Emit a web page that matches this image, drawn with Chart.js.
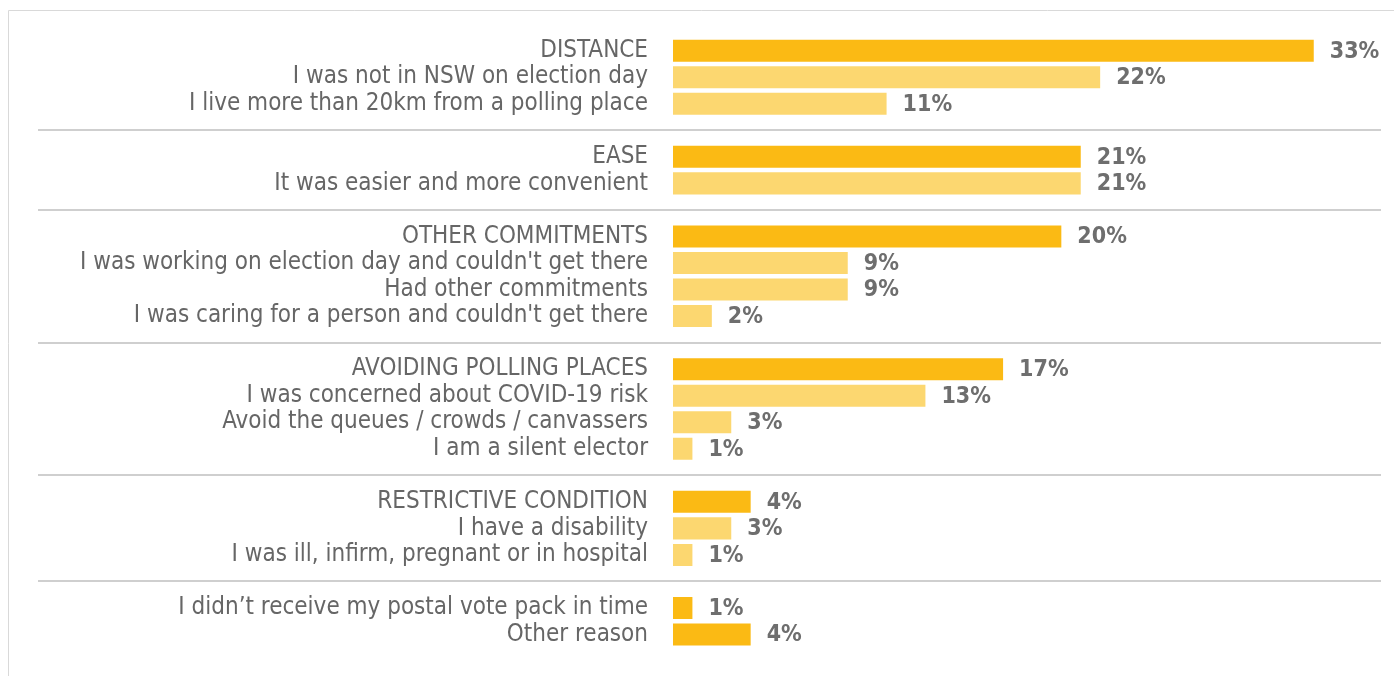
<!DOCTYPE html>
<html>
<head>
<meta charset="utf-8">
<script src="https://cdn.jsdelivr.net/npm/chart.js@4/dist/chart.umd.min.js"></script>
<style>
  html, body { margin: 0; padding: 0; background: #ffffff; }
  #wrap { position: relative; width: 1394px; height: 676px; }
  canvas { display: block; }
</style>
</head>
<body>
<div id="wrap"><canvas id="chart" width="1394" height="676"></canvas></div>
<script>
// Reasons for voting early / by post, grouped by theme.
// Empty strings mark the spacer rows where the group dividers sit.
const reasons = [
  'DISTANCE',
  'I was not in NSW on election day',
  'I live more than 20km from a polling place',
  '',
  'EASE',
  'It was easier and more convenient',
  '',
  'OTHER COMMITMENTS',
  "I was working on election day and couldn't get there",
  'Had other commitments',
  "I was caring for a person and couldn't get there",
  '',
  'AVOIDING POLLING PLACES',
  'I was concerned about COVID-19 risk',
  'Avoid the queues / crowds / canvassers',
  'I am a silent elector',
  '',
  'RESTRICTIVE CONDITION',
  'I have a disability',
  'I was ill, infirm, pregnant or in hospital',
  '',
  'I didn\u2019t receive my postal vote pack in time',
  'Other reason'
];

// Share of respondents (%) per row; null for spacer rows.
const shares = [
  33, 22, 11, null,
  21, 21, null,
  20, 9, 9, 2, null,
  17, 13, 3, 1, null,
  4, 3, 1, null,
  1, 4
];

// true = group total / stand-alone reason (darker bar), false = sub-reason.
const isHeadline = [
  true, false, false, false,
  true, false, false,
  true, false, false, false, false,
  true, false, false, false, false,
  true, false, false, false,
  true, true
];

const DARK = '#FBBA14';
const LIGHT = '#FCD770';
const TEXT = '#666666';
const LABEL_FONT = '"Liberation Sans Narrow", "DejaVu Sans Condensed", sans-serif';

const PLOT_LEFT = 673;

// Grey frame lines along the top and left of the panel, plus group dividers.
const decorations = {
  id: 'decorations',
  beforeDraw(chart) {
    const ctx = chart.ctx;
    ctx.save();
    ctx.strokeStyle = '#d9d9d9';
    ctx.lineWidth = 1;
    ctx.beginPath();
    ctx.moveTo(8.5, 676);
    ctx.lineTo(8.5, 10.5);
    ctx.lineTo(1394, 10.5);
    ctx.stroke();

    const y = chart.scales.y;
    ctx.strokeStyle = '#cfcfcf';
    ctx.lineWidth = 2;
    reasons.forEach((r, i) => {
      if (r !== '') return;
      const py = Math.round(y.getPixelForValue(i));
      ctx.beginPath();
      ctx.moveTo(38, py);
      ctx.lineTo(1381, py);
      ctx.stroke();
    });
    ctx.restore();
  }
};

// Percentage labels just past the end of each bar.
const valueLabels = {
  id: 'valueLabels',
  afterDatasetsDraw(chart) {
    const ctx = chart.ctx;
    const meta = chart.getDatasetMeta(0);
    ctx.save();
    ctx.fillStyle = '#6e6e6e';
    ctx.font = 'bold 23px ' + LABEL_FONT;
    ctx.textAlign = 'left';
    ctx.textBaseline = 'middle';
    meta.data.forEach((bar, i) => {
      const v = shares[i];
      if (v === null) return;
      ctx.fillText(v + '%', bar.x + 16, bar.y + 1);
    });
    ctx.restore();
  }
};

new Chart(document.getElementById('chart'), {
  type: 'bar',
  data: {
    labels: reasons,
    datasets: [{
      data: shares,
      backgroundColor: isHeadline.map(h => h ? DARK : LIGHT),
      borderWidth: 0,
      barPercentage: 0.83,
      categoryPercentage: 1.0
    }]
  },
  options: {
    indexAxis: 'y',
    responsive: false,
    animation: false,
    events: [],
    layout: { padding: { top: 37.4, bottom: 28.2, right: 22, left: 0 } },
    plugins: {
      legend: { display: false },
      tooltip: { enabled: false }
    },
    scales: {
      x: {
        display: false,
        min: 0,
        max: 36
      },
      y: {
        grid: { display: false, drawTicks: false },
        border: { display: false },
        afterFit(scale) {
          // fixed label column; rows fill the full plot height
          scale.width = PLOT_LEFT;
          scale.paddingTop = 0;
          scale.paddingBottom = 0;
        },
        ticks: {
          autoSkip: false,
          padding: 25,
          color: TEXT,
          font: { family: LABEL_FONT, size: 24 }
        }
      }
    }
  },
  plugins: [decorations, valueLabels]
});
</script>
</body>
</html>
